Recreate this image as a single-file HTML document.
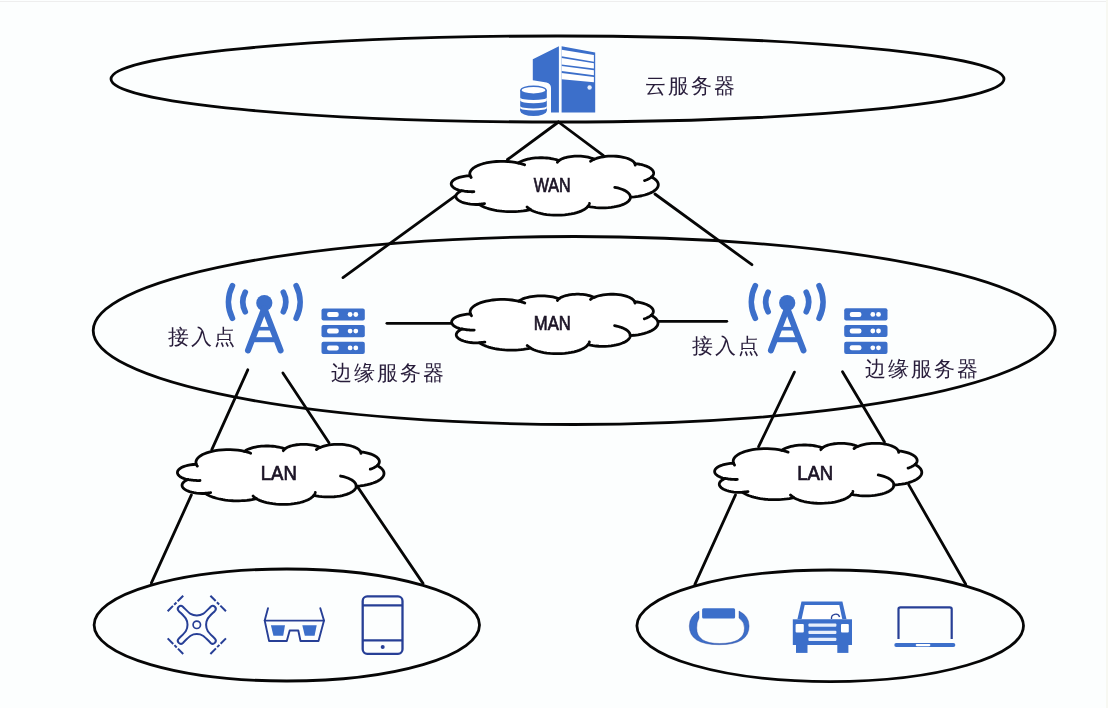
<!DOCTYPE html>
<html><head><meta charset="utf-8"><style>
html,body{margin:0;padding:0;background:#fcfefe;}
body{width:1108px;height:708px;overflow:hidden;position:relative;}
svg{position:absolute;left:0;top:0;will-change:transform;}
.cn{font-family:"Liberation Sans",sans-serif;font-size:21px;letter-spacing:2px;fill:#271c3a;}
.lat{font-family:"Liberation Sans",sans-serif;font-size:19.5px;fill:#1c1426;stroke:#1c1426;stroke-width:0.7px;}
</style></head><body>
<svg width="1108" height="708" viewBox="0 0 1108 708">
<rect x="0" y="1" width="1108" height="1" fill="#eeeeee"/>
<rect x="1106" y="0" width="2" height="708" fill="#f7f8f2"/>
<ellipse cx="557.5" cy="79" rx="446.5" ry="43" fill="none" stroke="#060606" stroke-width="2.8"/>
<ellipse cx="574.2" cy="330.5" rx="481" ry="94" fill="none" stroke="#060606" stroke-width="2.8"/>
<ellipse cx="286.8" cy="625" rx="192.7" ry="56" fill="none" stroke="#060606" stroke-width="2.8"/>
<ellipse cx="830.2" cy="625.8" rx="193.3" ry="55.8" fill="none" stroke="#060606" stroke-width="2.8"/>
<line x1="558.5" y1="122" x2="507.5" y2="159.5" stroke="#060606" stroke-width="2.8" stroke-linecap="round"/>
<line x1="558.5" y1="122" x2="603.5" y2="155.6" stroke="#060606" stroke-width="2.8" stroke-linecap="round"/>
<line x1="456.7" y1="194.8" x2="343" y2="277.6" stroke="#060606" stroke-width="2.8" stroke-linecap="round"/>
<line x1="654.9" y1="194" x2="751.9" y2="264.7" stroke="#060606" stroke-width="2.8" stroke-linecap="round"/>
<line x1="386.9" y1="323.3" x2="452" y2="323.3" stroke="#060606" stroke-width="2.8" stroke-linecap="round"/>
<line x1="658" y1="321.3" x2="726.8" y2="321.3" stroke="#060606" stroke-width="2.8" stroke-linecap="round"/>
<line x1="247.8" y1="369.8" x2="211.7" y2="449.8" stroke="#060606" stroke-width="2.8" stroke-linecap="round"/>
<line x1="282.9" y1="372.9" x2="329" y2="442.8" stroke="#060606" stroke-width="2.8" stroke-linecap="round"/>
<line x1="794.4" y1="372.1" x2="758.6" y2="446.7" stroke="#060606" stroke-width="2.8" stroke-linecap="round"/>
<line x1="842.5" y1="371.8" x2="884.5" y2="442" stroke="#060606" stroke-width="2.8" stroke-linecap="round"/>
<line x1="191.4" y1="494.9" x2="151.4" y2="582.9" stroke="#060606" stroke-width="2.8" stroke-linecap="round"/>
<line x1="356.6" y1="485.4" x2="423" y2="583.4" stroke="#060606" stroke-width="2.8" stroke-linecap="round"/>
<line x1="735.5" y1="494.9" x2="694.9" y2="584.3" stroke="#060606" stroke-width="2.8" stroke-linecap="round"/>
<line x1="908.8" y1="484.9" x2="965.7" y2="584.3" stroke="#060606" stroke-width="2.8" stroke-linecap="round"/>
<path d="M470.07 175.56 L469.85 174.72 L469.77 173.89 L469.84 173.06 L470.05 172.23 L470.41 171.39 L470.92 170.54 L471.61 169.69 L472.49 168.82 L473.57 167.96 L474.88 167.08 L476.46 166.21 L478.32 165.35 L480.49 164.51 L483.00 163.72 L485.86 162.99 L489.05 162.36 L492.55 161.85 L496.29 161.50 L500.19 161.31 L504.14 161.32 L508.04 161.51 L511.78 161.87 L515.26 162.38 L518.44 163.02 L519.18 162.52 L520.01 162.01 L520.97 161.51 L522.04 161.02 L523.24 160.53 L524.58 160.06 L526.07 159.61 L527.69 159.19 L529.46 158.81 L531.37 158.47 L533.40 158.19 L535.53 157.97 L537.74 157.82 L540.00 157.75 L542.27 157.75 L544.53 157.83 L546.73 157.99 L548.85 158.22 L550.86 158.51 L552.75 158.86 L554.50 159.25 L556.11 159.67 L557.58 160.12 L558.90 160.60 L559.53 160.14 L560.26 159.69 L561.10 159.23 L562.07 158.78 L563.17 158.34 L564.40 157.92 L565.78 157.52 L567.30 157.15 L568.97 156.82 L570.76 156.54 L572.67 156.32 L574.66 156.17 L576.71 156.10 L578.77 156.11 L580.81 156.19 L582.79 156.35 L584.68 156.57 L586.46 156.86 L588.11 157.20 L589.61 157.57 L590.97 157.98 L592.18 158.40 L593.26 158.84 L594.21 159.29 L595.59 158.72 L597.17 158.16 L598.98 157.64 L601.01 157.17 L603.24 156.76 L605.67 156.44 L608.24 156.22 L610.90 156.11 L613.59 156.13 L616.23 156.26 L618.78 156.50 L621.16 156.84 L623.35 157.27 L625.33 157.75 L627.09 158.28 L628.63 158.84 L629.96 159.42 L631.10 160.01 L632.07 160.61 L632.88 161.20 L633.55 161.79 L634.09 162.37 L634.51 162.95 L634.83 163.53 L637.33 163.85 L639.66 164.25 L641.79 164.72 L643.70 165.25 L645.41 165.81 L646.91 166.39 L648.22 166.99 L649.34 167.60 L650.31 168.21 L651.13 168.81 L651.81 169.42 L652.37 170.02 L652.82 170.61 L653.17 171.20 L653.42 171.78 L653.58 172.36 L653.65 172.94 L653.63 173.52 L653.53 174.10 L653.34 174.68 L653.06 175.27 L652.68 175.85 L652.19 176.45 L651.59 177.05 L653.24 177.97 L654.61 178.89 L655.72 179.81 L656.61 180.72 L657.29 181.62 L657.79 182.51 L658.11 183.39 L658.28 184.27 L658.28 185.15 L658.13 186.03 L657.81 186.91 L657.32 187.81 L656.65 188.70 L655.77 189.61 L654.67 190.53 L653.31 191.45 L651.67 192.37 L649.71 193.28 L647.41 194.16 L644.72 194.99 L641.66 195.75 L638.23 196.39 L634.47 196.89 L630.46 197.22 L630.39 197.88 L630.22 198.53 L629.94 199.20 L629.55 199.86 L629.04 200.54 L628.39 201.21 L627.59 201.90 L626.64 202.59 L625.50 203.28 L624.17 203.96 L622.62 204.63 L620.84 205.29 L618.81 205.90 L616.54 206.47 L614.01 206.97 L611.27 207.38 L608.34 207.67 L605.29 207.85 L602.17 207.89 L599.07 207.80 L596.06 207.58 L593.19 207.23 L590.53 206.79 L588.10 206.26 L587.40 207.06 L586.54 207.87 L585.49 208.68 L584.24 209.49 L582.76 210.30 L581.03 211.11 L579.03 211.89 L576.74 212.64 L574.15 213.33 L571.26 213.95 L568.09 214.47 L564.69 214.87 L561.11 215.12 L557.44 215.21 L553.76 215.14 L550.16 214.91 L546.72 214.54 L543.52 214.04 L540.59 213.43 L537.95 212.75 L535.62 212.00 L533.57 211.23 L531.81 210.42 L530.29 209.61 L528.13 210.08 L525.83 210.50 L523.40 210.87 L520.85 211.18 L518.21 211.42 L515.49 211.58 L512.73 211.66 L509.95 211.67 L507.19 211.59 L504.47 211.43 L501.82 211.20 L499.26 210.90 L496.82 210.53 L494.51 210.11 L492.34 209.65 L490.32 209.14 L488.44 208.60 L486.72 208.04 L485.13 207.46 L483.69 206.86 L482.38 206.26 L481.20 205.65 L480.14 205.04 L479.18 204.42 L476.17 204.48 L473.18 204.36 L470.33 204.09 L467.70 203.68 L465.36 203.17 L463.33 202.58 L461.60 201.95 L460.16 201.30 L458.98 200.63 L458.03 199.97 L457.28 199.30 L456.71 198.65 L456.30 198.00 L456.03 197.36 L455.90 196.72 L455.89 196.08 L456.02 195.45 L456.28 194.80 L456.69 194.16 L457.25 193.50 L457.98 192.84 L458.92 192.17 L460.09 191.51 L461.51 190.85 L459.28 190.26 L457.39 189.61 L455.82 188.93 L454.54 188.24 L453.52 187.54 L452.71 186.85 L452.10 186.17 L451.67 185.50 L451.38 184.83 L451.24 184.17 L451.24 183.51 L451.38 182.85 L451.66 182.19 L452.09 181.51 L452.69 180.83 L453.49 180.14 L454.51 179.45 L455.78 178.75 L457.34 178.07 L459.22 177.42 L461.44 176.83 L463.99 176.33 L466.83 175.96 L469.89 175.74 Z" fill="#fff" stroke="#060606" stroke-width="2.8" stroke-linejoin="round"/>
<path d=" M473.87 191.71 L472.77 191.73 L471.68 191.73 L470.59 191.71 L469.51 191.67 L468.44 191.60 L467.39 191.51 L466.37 191.40 L465.37 191.28 L464.41 191.14 L463.48 190.98 L462.59 190.81 L461.74 190.62 M484.56 203.64 L484.15 203.71 L483.73 203.76 L483.31 203.82 L482.87 203.87 L482.44 203.92 L482.00 203.97 L481.55 204.01 L481.10 204.05 L480.64 204.08 L480.19 204.12 L479.72 204.14 L479.26 204.17 M530.28 209.38 L529.95 209.18 L529.63 208.98 L529.32 208.78 L529.02 208.58 L528.74 208.38 L528.47 208.18 L528.21 207.98 L527.96 207.79 L527.73 207.59 L527.50 207.39 L527.29 207.19 L527.08 207.00 M589.40 203.44 L589.35 203.66 L589.29 203.87 L589.22 204.09 L589.14 204.31 L589.05 204.52 L588.94 204.74 L588.83 204.96 L588.71 205.18 L588.58 205.39 L588.44 205.61 L588.28 205.83 L588.12 206.05 M614.78 187.30 L617.78 187.96 L620.39 188.71 L622.62 189.52 L624.50 190.36 L626.04 191.22 L627.30 192.08 L628.31 192.93 L629.08 193.77 L629.66 194.60 L630.05 195.43 L630.28 196.25 L630.34 197.06 M651.49 176.91 L651.13 177.21 L650.75 177.52 L650.32 177.83 L649.86 178.14 L649.36 178.45 L648.81 178.76 L648.22 179.07 L647.59 179.38 L646.91 179.68 L646.18 179.98 L645.39 180.28 L644.56 180.57 M634.86 163.32 L634.92 163.47 L634.98 163.61 L635.03 163.76 L635.08 163.90 L635.12 164.05 L635.15 164.19 L635.18 164.33 L635.20 164.48 L635.21 164.62 L635.22 164.76 L635.23 164.91 L635.22 165.05 M590.60 161.31 L590.81 161.12 L591.04 160.94 L591.28 160.76 L591.53 160.57 L591.80 160.39 L592.09 160.20 L592.39 160.02 L592.71 159.83 L593.04 159.65 L593.39 159.47 L593.76 159.28 L594.15 159.10 M557.39 162.36 L557.48 162.20 L557.58 162.04 L557.69 161.89 L557.81 161.73 L557.94 161.57 L558.07 161.41 L558.22 161.26 L558.38 161.10 L558.54 160.94 L558.72 160.78 L558.91 160.62 L559.11 160.46 M518.42 163.00 L519.01 163.14 L519.59 163.28 L520.16 163.43 L520.71 163.58 L521.25 163.73 L521.77 163.88 L522.29 164.04 L522.78 164.20 L523.27 164.36 L523.74 164.52 L524.20 164.68 L524.64 164.85 M471.16 177.50 L471.03 177.34 L470.92 177.17 L470.80 177.01 L470.70 176.85 L470.60 176.69 L470.51 176.53 L470.42 176.36 L470.34 176.20 L470.26 176.04 L470.19 175.88 L470.13 175.72 L470.07 175.56" fill="none" stroke="#060606" stroke-width="2.8" stroke-linecap="round"/>
<text x="533.7" y="191.6" class="lat" textLength="37" lengthAdjust="spacingAndGlyphs">WAN</text>
<path d="M470.41 313.79 L470.19 312.95 L470.11 312.11 L470.18 311.28 L470.39 310.44 L470.74 309.59 L471.26 308.74 L471.94 307.88 L472.81 307.01 L473.89 306.14 L475.20 305.26 L476.77 304.38 L478.63 303.51 L480.79 302.67 L483.30 301.87 L486.14 301.14 L489.32 300.51 L492.81 299.99 L496.54 299.63 L500.42 299.45 L504.36 299.45 L508.25 299.64 L511.97 300.01 L515.45 300.52 L518.62 301.16 L519.35 300.66 L520.18 300.15 L521.13 299.65 L522.20 299.15 L523.40 298.67 L524.73 298.19 L526.21 297.74 L527.83 297.32 L529.60 296.93 L531.50 296.59 L533.52 296.30 L535.64 296.08 L537.85 295.93 L540.10 295.86 L542.36 295.86 L544.61 295.95 L546.80 296.11 L548.92 296.34 L550.92 296.63 L552.81 296.98 L554.55 297.37 L556.16 297.80 L557.62 298.25 L558.93 298.73 L559.56 298.27 L560.29 297.81 L561.13 297.35 L562.09 296.90 L563.19 296.46 L564.42 296.03 L565.79 295.63 L567.31 295.26 L568.97 294.92 L570.76 294.64 L572.66 294.42 L574.64 294.28 L576.68 294.20 L578.74 294.21 L580.77 294.29 L582.75 294.45 L584.63 294.68 L586.40 294.97 L588.04 295.31 L589.54 295.68 L590.90 296.09 L592.11 296.52 L593.18 296.96 L594.13 297.42 L595.50 296.84 L597.08 296.28 L598.88 295.75 L600.90 295.28 L603.13 294.87 L605.54 294.54 L608.11 294.32 L610.76 294.22 L613.44 294.23 L616.08 294.36 L618.61 294.61 L620.99 294.95 L623.17 295.38 L625.14 295.86 L626.89 296.40 L628.43 296.96 L629.76 297.55 L630.89 298.14 L631.86 298.74 L632.67 299.34 L633.33 299.93 L633.87 300.52 L634.29 301.10 L634.61 301.68 L637.10 302.00 L639.42 302.41 L641.54 302.88 L643.45 303.41 L645.15 303.97 L646.65 304.56 L647.95 305.17 L649.07 305.78 L650.04 306.39 L650.85 307.00 L651.53 307.61 L652.09 308.21 L652.54 308.81 L652.88 309.40 L653.13 309.99 L653.29 310.57 L653.36 311.16 L653.35 311.74 L653.25 312.32 L653.06 312.91 L652.77 313.50 L652.39 314.09 L651.91 314.69 L651.31 315.29 L652.96 316.22 L654.32 317.15 L655.43 318.07 L656.32 318.99 L657.00 319.89 L657.49 320.79 L657.81 321.68 L657.98 322.56 L657.98 323.45 L657.83 324.33 L657.51 325.22 L657.02 326.12 L656.35 327.03 L655.48 327.94 L654.38 328.86 L653.03 329.79 L651.39 330.72 L649.44 331.63 L647.14 332.52 L644.47 333.36 L641.42 334.12 L637.99 334.77 L634.25 335.27 L630.25 335.60 L630.18 336.26 L630.02 336.92 L629.74 337.59 L629.35 338.26 L628.83 338.94 L628.19 339.62 L627.40 340.31 L626.44 341.00 L625.31 341.70 L623.99 342.39 L622.44 343.06 L620.67 343.72 L618.65 344.34 L616.38 344.91 L613.86 345.41 L611.13 345.82 L608.21 346.13 L605.17 346.30 L602.06 346.35 L598.97 346.25 L595.97 346.02 L593.11 345.68 L590.46 345.23 L588.04 344.70 L587.34 345.51 L586.48 346.32 L585.44 347.13 L584.19 347.95 L582.72 348.77 L580.99 349.58 L579.00 350.37 L576.72 351.12 L574.13 351.82 L571.25 352.45 L568.10 352.97 L564.71 353.37 L561.14 353.62 L557.48 353.72 L553.81 353.64 L550.22 353.41 L546.80 353.04 L543.61 352.53 L540.69 351.92 L538.06 351.23 L535.73 350.48 L533.70 349.70 L531.93 348.89 L530.42 348.08 L528.27 348.55 L525.98 348.97 L523.55 349.35 L521.01 349.65 L518.38 349.89 L515.67 350.06 L512.92 350.14 L510.15 350.14 L507.40 350.06 L504.69 349.91 L502.05 349.67 L499.50 349.37 L497.07 349.00 L494.77 348.58 L492.60 348.11 L490.59 347.60 L488.72 347.06 L487.00 346.49 L485.42 345.91 L483.98 345.31 L482.68 344.70 L481.50 344.09 L480.44 343.47 L479.49 342.85 L476.49 342.91 L473.51 342.79 L470.67 342.51 L468.05 342.10 L465.72 341.59 L463.69 341.00 L461.97 340.36 L460.53 339.70 L459.36 339.03 L458.41 338.36 L457.66 337.70 L457.09 337.04 L456.68 336.39 L456.42 335.74 L456.28 335.10 L456.28 334.46 L456.40 333.81 L456.66 333.17 L457.07 332.52 L457.63 331.86 L458.36 331.19 L459.30 330.52 L460.46 329.85 L461.88 329.19 L459.66 328.59 L457.77 327.94 L456.21 327.26 L454.93 326.56 L453.91 325.86 L453.11 325.16 L452.50 324.48 L452.07 323.80 L451.78 323.13 L451.64 322.46 L451.64 321.80 L451.78 321.14 L452.05 320.47 L452.49 319.79 L453.09 319.10 L453.88 318.41 L454.89 317.71 L456.16 317.01 L457.72 316.32 L459.59 315.67 L461.80 315.07 L464.35 314.57 L467.18 314.19 L470.23 313.98 Z" fill="#fff" stroke="#060606" stroke-width="2.8" stroke-linejoin="round"/>
<path d=" M474.19 330.05 L473.10 330.08 L472.01 330.08 L470.93 330.05 L469.85 330.01 L468.78 329.94 L467.74 329.85 L466.72 329.74 L465.73 329.62 L464.77 329.47 L463.84 329.32 L462.95 329.14 L462.10 328.96 M484.85 342.07 L484.44 342.13 L484.02 342.19 L483.60 342.25 L483.17 342.30 L482.73 342.35 L482.29 342.39 L481.85 342.44 L481.40 342.48 L480.94 342.51 L480.49 342.54 L480.03 342.57 L479.56 342.59 M530.41 347.84 L530.08 347.64 L529.76 347.44 L529.45 347.24 L529.16 347.04 L528.88 346.84 L528.61 346.64 L528.35 346.44 L528.10 346.24 L527.87 346.04 L527.64 345.84 L527.43 345.64 L527.23 345.44 M589.33 341.86 L589.28 342.08 L589.22 342.30 L589.15 342.51 L589.07 342.73 L588.98 342.95 L588.88 343.17 L588.77 343.39 L588.65 343.61 L588.52 343.83 L588.38 344.05 L588.22 344.27 L588.06 344.49 M614.62 325.61 L617.61 326.28 L620.22 327.04 L622.44 327.85 L624.31 328.70 L625.85 329.56 L627.11 330.42 L628.11 331.28 L628.88 332.13 L629.46 332.96 L629.85 333.80 L630.07 334.62 L630.14 335.44 M651.21 315.15 L650.86 315.46 L650.47 315.77 L650.05 316.08 L649.59 316.39 L649.09 316.70 L648.54 317.01 L647.96 317.33 L647.33 317.63 L646.65 317.94 L645.92 318.24 L645.14 318.54 L644.30 318.83 M634.64 301.47 L634.70 301.62 L634.76 301.76 L634.81 301.91 L634.86 302.06 L634.89 302.20 L634.93 302.35 L634.96 302.49 L634.98 302.64 L634.99 302.78 L635.00 302.92 L635.00 303.07 L635.00 303.21 M590.53 299.44 L590.74 299.26 L590.97 299.07 L591.21 298.89 L591.46 298.70 L591.73 298.52 L592.01 298.33 L592.31 298.15 L592.63 297.96 L592.96 297.78 L593.31 297.59 L593.68 297.41 L594.06 297.22 M557.43 300.50 L557.52 300.34 L557.62 300.19 L557.73 300.03 L557.85 299.87 L557.97 299.71 L558.11 299.55 L558.26 299.39 L558.41 299.23 L558.58 299.07 L558.76 298.91 L558.95 298.75 L559.14 298.59 M518.59 301.15 L519.18 301.29 L519.76 301.43 L520.33 301.58 L520.88 301.73 L521.41 301.88 L521.94 302.04 L522.45 302.19 L522.94 302.35 L523.42 302.51 L523.89 302.68 L524.35 302.84 L524.79 303.01 M471.49 315.75 L471.37 315.58 L471.25 315.42 L471.14 315.25 L471.03 315.09 L470.94 314.93 L470.84 314.76 L470.76 314.60 L470.67 314.44 L470.60 314.28 L470.53 314.12 L470.47 313.95 L470.41 313.79" fill="none" stroke="#060606" stroke-width="2.8" stroke-linecap="round"/>
<text x="533.8" y="329.6" class="lat" textLength="37" lengthAdjust="spacingAndGlyphs">MAN</text>
<path d="M196.22 464.09 L196.01 463.24 L195.93 462.40 L196.00 461.55 L196.21 460.70 L196.56 459.85 L197.08 458.99 L197.76 458.12 L198.63 457.24 L199.71 456.36 L201.03 455.47 L202.60 454.58 L204.45 453.71 L206.62 452.86 L209.13 452.05 L211.97 451.31 L215.16 450.67 L218.65 450.15 L222.38 449.79 L226.27 449.61 L230.22 449.61 L234.10 449.80 L237.83 450.17 L241.31 450.69 L244.48 451.34 L245.21 450.83 L246.05 450.32 L247.00 449.81 L248.07 449.31 L249.27 448.81 L250.61 448.33 L252.08 447.88 L253.71 447.45 L255.47 447.06 L257.37 446.72 L259.40 446.43 L261.52 446.20 L263.73 446.05 L265.98 445.98 L268.25 445.98 L270.50 446.07 L272.70 446.23 L274.81 446.46 L276.82 446.76 L278.70 447.11 L280.45 447.50 L282.06 447.93 L283.52 448.39 L284.84 448.87 L285.47 448.41 L286.20 447.95 L287.04 447.49 L288.00 447.03 L289.10 446.58 L290.33 446.15 L291.70 445.75 L293.22 445.37 L294.88 445.03 L296.67 444.75 L298.58 444.53 L300.56 444.38 L302.60 444.30 L304.66 444.31 L306.70 444.39 L308.67 444.56 L310.56 444.79 L312.33 445.08 L313.98 445.42 L315.48 445.80 L316.83 446.21 L318.04 446.65 L319.12 447.09 L320.07 447.55 L321.44 446.96 L323.02 446.40 L324.82 445.87 L326.84 445.39 L329.08 444.98 L331.49 444.65 L334.06 444.43 L336.71 444.32 L339.39 444.33 L342.04 444.47 L344.57 444.71 L346.95 445.06 L349.14 445.49 L351.11 445.98 L352.86 446.52 L354.40 447.09 L355.73 447.68 L356.87 448.28 L357.83 448.89 L358.64 449.49 L359.31 450.09 L359.85 450.68 L360.27 451.27 L360.59 451.86 L363.08 452.18 L365.40 452.59 L367.53 453.07 L369.44 453.60 L371.14 454.17 L372.64 454.77 L373.94 455.38 L375.07 456.00 L376.03 456.61 L376.84 457.23 L377.52 457.85 L378.08 458.45 L378.53 459.06 L378.88 459.66 L379.13 460.25 L379.29 460.84 L379.36 461.43 L379.34 462.02 L379.24 462.61 L379.05 463.20 L378.77 463.79 L378.39 464.39 L377.90 465.00 L377.30 465.61 L378.95 466.54 L380.32 467.48 L381.43 468.41 L382.31 469.34 L382.99 470.25 L383.49 471.16 L383.81 472.06 L383.98 472.95 L383.98 473.85 L383.83 474.74 L383.51 475.64 L383.02 476.54 L382.35 477.46 L381.48 478.38 L380.38 479.32 L379.03 480.25 L377.39 481.19 L375.43 482.11 L373.13 483.01 L370.46 483.86 L367.40 484.62 L363.98 485.28 L360.22 485.79 L356.22 486.12 L356.16 486.79 L355.99 487.46 L355.71 488.13 L355.32 488.81 L354.81 489.49 L354.16 490.18 L353.37 490.88 L352.41 491.58 L351.28 492.28 L349.95 492.97 L348.41 493.66 L346.63 494.32 L344.61 494.95 L342.34 495.53 L339.82 496.03 L337.08 496.45 L334.16 496.75 L331.12 496.93 L328.01 496.97 L324.91 496.88 L321.91 496.65 L319.05 496.30 L316.39 495.85 L313.97 495.31 L313.27 496.13 L312.41 496.95 L311.37 497.77 L310.12 498.60 L308.65 499.43 L306.92 500.24 L304.92 501.04 L302.64 501.80 L300.05 502.51 L297.17 503.13 L294.01 503.66 L290.62 504.07 L287.05 504.32 L283.38 504.42 L279.71 504.35 L276.12 504.11 L272.69 503.73 L269.50 503.22 L266.57 502.60 L263.94 501.91 L261.61 501.15 L259.58 500.36 L257.81 499.55 L256.30 498.72 L254.15 499.20 L251.85 499.63 L249.42 500.00 L246.88 500.31 L244.24 500.56 L241.53 500.72 L238.78 500.81 L236.01 500.81 L233.25 500.73 L230.54 500.57 L227.90 500.33 L225.35 500.03 L222.91 499.66 L220.61 499.23 L218.44 498.75 L216.42 498.24 L214.55 497.69 L212.83 497.12 L211.25 496.53 L209.81 495.93 L208.51 495.31 L207.33 494.69 L206.27 494.07 L205.32 493.45 L202.31 493.50 L199.33 493.38 L196.48 493.10 L193.86 492.69 L191.53 492.17 L189.50 491.57 L187.78 490.93 L186.34 490.27 L185.17 489.59 L184.22 488.91 L183.47 488.24 L182.90 487.57 L182.49 486.91 L182.22 486.26 L182.09 485.61 L182.08 484.96 L182.21 484.31 L182.47 483.66 L182.87 483.00 L183.43 482.34 L184.17 481.67 L185.11 480.99 L186.27 480.31 L187.69 479.64 L185.46 479.04 L183.58 478.38 L182.01 477.69 L180.73 476.99 L179.71 476.28 L178.91 475.58 L178.30 474.88 L177.87 474.20 L177.58 473.52 L177.44 472.85 L177.44 472.18 L177.58 471.51 L177.85 470.83 L178.29 470.15 L178.89 469.46 L179.68 468.75 L180.70 468.05 L181.97 467.34 L183.52 466.65 L185.40 465.99 L187.61 465.39 L190.16 464.88 L193.00 464.50 L196.05 464.28 Z" fill="#fff" stroke="#060606" stroke-width="2.8" stroke-linejoin="round"/>
<path d=" M200.01 480.52 L198.92 480.54 L197.83 480.54 L196.74 480.52 L195.66 480.47 L194.60 480.40 L193.55 480.31 L192.53 480.20 L191.54 480.08 L190.58 479.93 L189.65 479.77 L188.76 479.60 L187.91 479.41 M210.68 492.65 L210.27 492.71 L209.85 492.77 L209.43 492.83 L209.00 492.89 L208.56 492.94 L208.12 492.98 L207.68 493.02 L207.23 493.06 L206.77 493.10 L206.32 493.13 L205.85 493.16 L205.39 493.18 M256.29 498.48 L255.96 498.28 L255.64 498.08 L255.33 497.87 L255.03 497.67 L254.75 497.47 L254.48 497.27 L254.22 497.07 L253.98 496.86 L253.74 496.66 L253.52 496.46 L253.30 496.26 L253.10 496.06 M315.26 492.45 L315.21 492.66 L315.15 492.88 L315.08 493.10 L315.00 493.32 L314.91 493.54 L314.81 493.77 L314.70 493.99 L314.58 494.21 L314.45 494.43 L314.31 494.65 L314.15 494.88 L313.99 495.10 M340.58 476.03 L343.57 476.71 L346.18 477.47 L348.41 478.29 L350.28 479.15 L351.82 480.02 L353.08 480.89 L354.08 481.75 L354.85 482.61 L355.43 483.46 L355.82 484.30 L356.05 485.13 L356.11 485.96 M377.20 465.46 L376.85 465.77 L376.46 466.09 L376.04 466.40 L375.58 466.72 L375.08 467.03 L374.54 467.35 L373.95 467.66 L373.32 467.97 L372.64 468.28 L371.91 468.59 L371.13 468.89 L370.29 469.18 M360.61 451.65 L360.68 451.80 L360.74 451.94 L360.79 452.09 L360.83 452.24 L360.87 452.38 L360.91 452.53 L360.93 452.68 L360.95 452.82 L360.97 452.97 L360.98 453.11 L360.98 453.26 L360.98 453.41 M316.46 449.60 L316.67 449.41 L316.90 449.23 L317.14 449.04 L317.40 448.85 L317.66 448.66 L317.95 448.48 L318.25 448.29 L318.57 448.10 L318.90 447.91 L319.25 447.73 L319.62 447.54 L320.00 447.36 M283.33 450.67 L283.42 450.51 L283.52 450.35 L283.63 450.19 L283.75 450.03 L283.88 449.87 L284.01 449.71 L284.16 449.55 L284.32 449.38 L284.48 449.22 L284.66 449.06 L284.85 448.90 L285.05 448.73 M244.46 451.32 L245.05 451.46 L245.63 451.61 L246.19 451.76 L246.74 451.91 L247.28 452.06 L247.80 452.22 L248.31 452.38 L248.81 452.54 L249.29 452.70 L249.76 452.86 L250.22 453.03 L250.66 453.20 M197.31 466.07 L197.18 465.90 L197.07 465.73 L196.96 465.57 L196.85 465.40 L196.75 465.24 L196.66 465.07 L196.57 464.91 L196.49 464.75 L196.42 464.58 L196.35 464.42 L196.28 464.26 L196.23 464.09" fill="none" stroke="#060606" stroke-width="2.8" stroke-linecap="round"/>
<text x="260.8" y="480.4" class="lat" textLength="36" lengthAdjust="spacingAndGlyphs">LAN</text>
<path d="M733.48 463.06 L733.26 462.21 L733.18 461.37 L733.25 460.52 L733.46 459.67 L733.82 458.82 L734.33 457.96 L735.02 457.10 L735.90 456.22 L736.98 455.34 L738.29 454.45 L739.87 453.57 L741.73 452.69 L743.91 451.84 L746.42 451.04 L749.27 450.30 L752.47 449.66 L755.97 449.14 L759.71 448.78 L763.61 448.60 L767.57 448.60 L771.47 448.79 L775.20 449.16 L778.69 449.68 L781.88 450.33 L782.61 449.82 L783.45 449.31 L784.40 448.80 L785.47 448.30 L786.68 447.80 L788.02 447.33 L789.50 446.87 L791.13 446.44 L792.90 446.05 L794.81 445.71 L796.84 445.42 L798.97 445.20 L801.18 445.05 L803.44 444.97 L805.72 444.98 L807.97 445.06 L810.17 445.23 L812.29 445.46 L814.31 445.75 L816.20 446.10 L817.95 446.50 L819.56 446.93 L821.03 447.39 L822.35 447.87 L822.98 447.41 L823.71 446.94 L824.56 446.48 L825.52 446.03 L826.62 445.58 L827.86 445.15 L829.23 444.74 L830.76 444.37 L832.42 444.03 L834.22 443.75 L836.13 443.53 L838.12 443.38 L840.17 443.30 L842.23 443.31 L844.27 443.39 L846.25 443.55 L848.15 443.79 L849.93 444.08 L851.57 444.42 L853.08 444.80 L854.44 445.21 L855.65 445.64 L856.73 446.09 L857.68 446.55 L859.06 445.96 L860.64 445.40 L862.45 444.87 L864.48 444.39 L866.72 443.97 L869.14 443.65 L871.71 443.43 L874.38 443.32 L877.07 443.33 L879.71 443.47 L882.26 443.71 L884.64 444.06 L886.84 444.49 L888.82 444.98 L890.57 445.52 L892.11 446.09 L893.45 446.68 L894.59 447.28 L895.56 447.88 L896.37 448.48 L897.04 449.08 L897.58 449.67 L898.00 450.26 L898.32 450.84 L900.82 451.17 L903.15 451.58 L905.28 452.06 L907.20 452.59 L908.90 453.16 L910.40 453.75 L911.71 454.36 L912.84 454.98 L913.81 455.59 L914.62 456.21 L915.31 456.82 L915.87 457.43 L916.32 458.03 L916.66 458.63 L916.91 459.22 L917.07 459.81 L917.15 460.40 L917.13 460.99 L917.03 461.58 L916.84 462.17 L916.55 462.76 L916.17 463.36 L915.69 463.96 L915.08 464.57 L916.74 465.51 L918.11 466.44 L919.22 467.37 L920.11 468.30 L920.79 469.21 L921.29 470.11 L921.61 471.01 L921.78 471.90 L921.78 472.80 L921.63 473.69 L921.31 474.59 L920.82 475.49 L920.15 476.40 L919.27 477.33 L918.17 478.26 L916.81 479.19 L915.17 480.13 L913.21 481.05 L910.90 481.95 L908.22 482.79 L905.15 483.56 L901.72 484.21 L897.95 484.72 L893.94 485.05 L893.88 485.72 L893.71 486.38 L893.43 487.06 L893.04 487.73 L892.52 488.42 L891.87 489.10 L891.08 489.80 L890.12 490.50 L888.99 491.20 L887.65 491.89 L886.10 492.58 L884.32 493.24 L882.29 493.87 L880.02 494.44 L877.49 494.95 L874.75 495.36 L871.82 495.66 L868.76 495.84 L865.64 495.88 L862.54 495.79 L859.53 495.56 L856.66 495.21 L854.00 494.76 L851.56 494.23 L850.87 495.04 L850.01 495.86 L848.96 496.68 L847.71 497.51 L846.23 498.33 L844.50 499.15 L842.49 499.94 L840.20 500.70 L837.61 501.41 L834.72 502.04 L831.55 502.56 L828.15 502.97 L824.57 503.22 L820.89 503.32 L817.20 503.25 L813.60 503.01 L810.17 502.63 L806.96 502.12 L804.03 501.51 L801.40 500.81 L799.06 500.06 L797.01 499.27 L795.25 498.45 L793.73 497.63 L791.57 498.11 L789.27 498.54 L786.83 498.91 L784.28 499.22 L781.64 499.46 L778.92 499.63 L776.16 499.71 L773.38 499.72 L770.61 499.64 L767.89 499.48 L765.24 499.24 L762.69 498.93 L760.25 498.56 L757.93 498.14 L755.76 497.66 L753.74 497.15 L751.86 496.60 L750.13 496.03 L748.55 495.44 L747.11 494.84 L745.80 494.23 L744.62 493.61 L743.55 492.99 L742.60 492.36 L739.58 492.42 L736.59 492.30 L733.74 492.02 L731.11 491.61 L728.77 491.09 L726.74 490.49 L725.01 489.85 L723.57 489.19 L722.39 488.51 L721.44 487.84 L720.69 487.16 L720.12 486.50 L719.70 485.84 L719.43 485.19 L719.30 484.54 L719.30 483.90 L719.42 483.25 L719.68 482.60 L720.09 481.94 L720.65 481.27 L721.39 480.60 L722.33 479.93 L723.49 479.25 L724.92 478.58 L722.69 477.98 L720.80 477.33 L719.22 476.64 L717.94 475.93 L716.92 475.23 L716.11 474.53 L715.50 473.83 L715.07 473.15 L714.78 472.47 L714.64 471.80 L714.64 471.13 L714.78 470.46 L715.06 469.79 L715.49 469.10 L716.09 468.41 L716.89 467.71 L717.91 467.01 L719.18 466.30 L720.74 465.61 L722.62 464.95 L724.84 464.35 L727.40 463.84 L730.24 463.46 L733.30 463.24 Z" fill="#fff" stroke="#060606" stroke-width="2.8" stroke-linejoin="round"/>
<path d=" M737.28 479.46 L736.18 479.48 L735.09 479.48 L734.00 479.46 L732.92 479.41 L731.85 479.34 L730.80 479.25 L729.78 479.14 L728.78 479.02 L727.82 478.87 L726.89 478.71 L726.00 478.54 L725.14 478.35 M747.98 491.57 L747.57 491.63 L747.15 491.69 L746.72 491.75 L746.29 491.80 L745.85 491.85 L745.41 491.90 L744.96 491.94 L744.51 491.98 L744.06 492.02 L743.60 492.05 L743.14 492.08 L742.67 492.10 M793.72 497.39 L793.38 497.19 L793.06 496.99 L792.75 496.78 L792.46 496.58 L792.18 496.38 L791.91 496.18 L791.65 495.98 L791.40 495.78 L791.16 495.58 L790.94 495.37 L790.72 495.17 L790.52 494.97 M852.86 491.37 L852.81 491.58 L852.75 491.80 L852.68 492.02 L852.60 492.24 L852.51 492.46 L852.41 492.68 L852.30 492.90 L852.18 493.13 L852.05 493.35 L851.91 493.57 L851.75 493.79 L851.59 494.02 M878.26 474.98 L881.26 475.65 L883.87 476.41 L886.10 477.23 L887.98 478.09 L889.53 478.96 L890.79 479.83 L891.79 480.69 L892.57 481.55 L893.15 482.39 L893.54 483.23 L893.76 484.06 L893.83 484.89 M914.99 464.42 L914.63 464.74 L914.24 465.05 L913.82 465.36 L913.36 465.68 L912.85 465.99 L912.31 466.31 L911.72 466.62 L911.09 466.93 L910.40 467.24 L909.67 467.55 L908.89 467.85 L908.05 468.14 M898.35 450.64 L898.41 450.78 L898.47 450.93 L898.52 451.08 L898.57 451.22 L898.61 451.37 L898.64 451.52 L898.67 451.66 L898.69 451.81 L898.70 451.95 L898.71 452.10 L898.72 452.25 L898.71 452.39 M854.06 448.59 L854.28 448.40 L854.51 448.22 L854.75 448.03 L855.00 447.84 L855.27 447.66 L855.56 447.47 L855.86 447.28 L856.18 447.09 L856.51 446.91 L856.86 446.72 L857.23 446.54 L857.62 446.35 M820.84 449.66 L820.93 449.50 L821.03 449.34 L821.14 449.18 L821.26 449.02 L821.39 448.86 L821.52 448.70 L821.67 448.54 L821.83 448.38 L821.99 448.21 L822.17 448.05 L822.36 447.89 L822.56 447.73 M781.85 450.31 L782.44 450.45 L783.02 450.60 L783.59 450.74 L784.14 450.89 L784.68 451.05 L785.21 451.20 L785.72 451.36 L786.22 451.52 L786.70 451.69 L787.17 451.85 L787.63 452.02 L788.08 452.18 M734.57 465.03 L734.44 464.86 L734.32 464.70 L734.21 464.53 L734.11 464.37 L734.01 464.20 L733.92 464.04 L733.83 463.88 L733.75 463.71 L733.67 463.55 L733.60 463.38 L733.54 463.22 L733.48 463.06" fill="none" stroke="#060606" stroke-width="2.8" stroke-linecap="round"/>
<text x="797.2" y="479.6" class="lat" textLength="36" lengthAdjust="spacingAndGlyphs">LAN</text>
<g transform="translate(0,0)" fill="none" stroke="#3c6fca" stroke-linecap="round"><path d="M245.23 292.28 A21.4 21.4 0 0 0 245.23 311.72" stroke-width="5.7"/><path d="M283.37 292.28 A21.4 21.4 0 0 1 283.37 311.72" stroke-width="5.7"/><path d="M232.40 285.75 A35.8 35.8 0 0 0 232.40 318.25" stroke-width="5.7"/><path d="M296.20 285.75 A35.8 35.8 0 0 1 296.20 318.25" stroke-width="5.7"/><circle cx="264.3" cy="303" r="8.1" fill="#3c6fca" stroke="none"/><path d="M264.3 308 L248.0 350.4 M264.3 308 L280.6 350.4" stroke-width="6"/><path d="M255.3 328.7 H273.3 " stroke-width="3.6" stroke-linecap="butt"/><path d="M251.3 339.7 H277.3" stroke-width="5" stroke-linecap="butt"/></g>
<g transform="translate(522.9,0)" fill="none" stroke="#3c6fca" stroke-linecap="round"><path d="M245.23 292.28 A21.4 21.4 0 0 0 245.23 311.72" stroke-width="5.7"/><path d="M283.37 292.28 A21.4 21.4 0 0 1 283.37 311.72" stroke-width="5.7"/><path d="M232.40 285.75 A35.8 35.8 0 0 0 232.40 318.25" stroke-width="5.7"/><path d="M296.20 285.75 A35.8 35.8 0 0 1 296.20 318.25" stroke-width="5.7"/><circle cx="264.3" cy="303" r="8.1" fill="#3c6fca" stroke="none"/><path d="M264.3 308 L248.0 350.4 M264.3 308 L280.6 350.4" stroke-width="6"/><path d="M255.3 328.7 H273.3 " stroke-width="3.6" stroke-linecap="butt"/><path d="M251.3 339.7 H277.3" stroke-width="5" stroke-linecap="butt"/></g>
<g transform="translate(321.5,308.4)"><rect x="0" y="0" width="43.3" height="12.2" rx="2" fill="#3c6fca"/><rect x="5.6" y="3.6" width="11.6" height="5" rx="2" fill="#fff"/><circle cx="28.6" cy="6.1" r="2.4" fill="#fff"/><circle cx="34.3" cy="6.1" r="2.4" fill="#fff"/><rect x="0" y="16.6" width="43.3" height="12.2" rx="2" fill="#3c6fca"/><rect x="5.6" y="20.200000000000003" width="11.6" height="5" rx="2" fill="#fff"/><circle cx="28.6" cy="22.700000000000003" r="2.4" fill="#fff"/><circle cx="34.3" cy="22.700000000000003" r="2.4" fill="#fff"/><rect x="0" y="33.4" width="43.3" height="12.2" rx="2" fill="#3c6fca"/><rect x="5.6" y="37.0" width="11.6" height="5" rx="2" fill="#fff"/><circle cx="28.6" cy="39.5" r="2.4" fill="#fff"/><circle cx="34.3" cy="39.5" r="2.4" fill="#fff"/></g>
<g transform="translate(844.2,308.3)"><rect x="0" y="0" width="43.3" height="12.2" rx="2" fill="#3c6fca"/><rect x="5.6" y="3.6" width="11.6" height="5" rx="2" fill="#fff"/><circle cx="28.6" cy="6.1" r="2.4" fill="#fff"/><circle cx="34.3" cy="6.1" r="2.4" fill="#fff"/><rect x="0" y="16.6" width="43.3" height="12.2" rx="2" fill="#3c6fca"/><rect x="5.6" y="20.200000000000003" width="11.6" height="5" rx="2" fill="#fff"/><circle cx="28.6" cy="22.700000000000003" r="2.4" fill="#fff"/><circle cx="34.3" cy="22.700000000000003" r="2.4" fill="#fff"/><rect x="0" y="33.4" width="43.3" height="12.2" rx="2" fill="#3c6fca"/><rect x="5.6" y="37.0" width="11.6" height="5" rx="2" fill="#fff"/><circle cx="28.6" cy="39.5" r="2.4" fill="#fff"/><circle cx="34.3" cy="39.5" r="2.4" fill="#fff"/></g>
<g>
<path d="M532.8 59.2 L558.9 46.2 L558.9 112.6 L551 112.6 L551 88 Q551 83.5 546.5 82.5 L532.8 80.3 Z" fill="#3c6fca"/>
<path d="M561.6 46.2 L595.2 52.4 L595.2 112.6 L561.6 112.6 Z" fill="#3c6fca"/>
<path d="M561.6 49.7 L593.9 55.1 L593.9 61.7 L561.6 56.3 Z" fill="#fff"/>
<path d="M561.6 58 L593.9 63.3 L593.9 68.5 L561.6 64.5 Z" fill="#fff"/>
<path d="M561.6 66 L593.9 70.2 L593.9 75.3 L561.6 71 Z" fill="#fff"/>
<path d="M561.6 73 L593.9 76.9 L593.9 82.3 L561.6 79.2 Z" fill="#fff"/>
<circle cx="589.6" cy="87.5" r="2.2" fill="#e6eefc"/>
<ellipse cx="533.5" cy="110.5" rx="13.3" ry="5.6" fill="#3c6fca"/>
<rect x="520.2" y="90" width="26.6" height="20.5" fill="#3c6fca"/>
<path d="M520.2 97.4 A13.3 2.6 0 0 0 546.8 97.4 L546.8 100.6 A13.3 2.6 0 0 1 520.2 100.6 Z" fill="#fff"/>
<path d="M520.2 105.9 A13.3 2.6 0 0 0 546.8 105.9 L546.8 108 A13.3 2.6 0 0 1 520.2 108 Z" fill="#fff"/>
<ellipse cx="533.5" cy="90.2" rx="12.6" ry="3.9" fill="#fff" stroke="#3c6fca" stroke-width="1.4"/>
</g>
<g transform="translate(196.8,624.8)" fill="none" stroke="#273f96" stroke-width="2" stroke-linecap="butt"><path d="M13.88 18.12 C7.88 12.12 6.00 9.30 0.00 9.30 C-6.00 9.30 -7.88 12.12 -13.88 18.12 A3.00 3.00 0 0 1 -18.12 13.88 C-12.12 7.88 -9.30 6.00 -9.30 0.00 C-9.30 -6.00 -12.12 -7.88 -18.12 -13.88 A3.00 3.00 0 0 1 -13.88 -18.12 C-7.88 -12.12 -6.00 -9.30 0.00 -9.30 C6.00 -9.30 7.88 -12.12 13.88 -18.12 A3.00 3.00 0 0 1 18.12 -13.88 C12.12 -7.88 9.30 -6.00 9.30 0.00 C9.30 6.00 12.12 7.88 18.12 13.88 A3.00 3.00 0 0 1 13.88 18.12 Z" stroke-linejoin="round"/><circle cx="0" cy="0" r="3.7" stroke-width="1.7"/><line x1="29.13" y1="13.58" x2="13.58" y2="29.13" stroke-dasharray="7.5 1.7 3.2 1.7 8" stroke-width="2"/><line x1="-13.58" y1="29.13" x2="-29.13" y2="13.58" stroke-dasharray="7.5 1.7 3.2 1.7 8" stroke-width="2"/><line x1="-29.13" y1="-13.58" x2="-13.58" y2="-29.13" stroke-dasharray="7.5 1.7 3.2 1.7 8" stroke-width="2"/><line x1="13.58" y1="-29.13" x2="29.13" y2="-13.58" stroke-dasharray="7.5 1.7 3.2 1.7 8" stroke-width="2"/></g>
<g fill="none" stroke="#273f96" stroke-width="1.9" stroke-linejoin="round" stroke-linecap="round">
<path d="M268 608.2 L264.7 620.6 L324 620.6 L320.3 608.2"/>
<path d="M264.7 620.6 L269.1 641 L286.8 641 L289.7 630.5 L298.3 630.5 L300.5 641 L318.5 641 L324 620.6"/>
<path d="M270.9 625.3 L285 625.3 L283.2 635.7 L273.4 635.7 Z" fill="#3c6fca" stroke="none"/>
<path d="M302.3 625.3 L316.7 625.3 L314.6 635.7 L304.8 635.7 Z" fill="#3c6fca" stroke="none"/>
</g>
<g fill="none" stroke="#273f96" stroke-width="2.3">
<rect x="362.7" y="596.4" width="39.8" height="57.4" rx="4.5"/>
<line x1="362.7" y1="605.3" x2="402.5" y2="605.3"/>
<line x1="362.7" y1="640.4" x2="402.5" y2="640.4"/>
<circle cx="382.7" cy="646.9" r="2" fill="#273f96" stroke="none"/>
</g>
<g>
<path d="M699 611 Q689.3 616 689.3 626 Q689.3 644.7 719.2 644.7 Q749.1 644.7 749.1 626 Q749.1 616 739 611 L739 618 Q744.5 622 744.5 628 Q744.5 643.5 719.5 643.5 Q696.7 643.5 696.7 628 Q696.7 622 699 618 Z" fill="#3c6fca" stroke="#273f96" stroke-width="0.4"/>
<rect x="702.1" y="608.2" width="33" height="10.4" rx="1.5" fill="#3c6fca"/>
</g>
<g fill="#3c6fca">
<path d="M801.5 601.4 L842.4 601.4 L846.5 619.3 L797.4 619.3 Z"/>
<path d="M804.7 605.1 L839.3 605.1 L842.3 619.3 L801.6 619.3 Z" fill="#fff"/>
<rect x="792.8" y="619.3" width="59.2" height="25.7"/>
<rect x="796" y="644" width="11.5" height="8.9"/>
<rect x="837.3" y="644" width="11.1" height="8.9"/>
<rect x="795.6" y="623.9" width="8.2" height="8.7" rx="1" fill="#fff"/>
<rect x="841" y="623.9" width="7.8" height="8.7" rx="1" fill="#fff"/>
<rect x="808.4" y="623.5" width="28" height="3.2" rx="1" fill="#e8effc"/>
<rect x="808.4" y="630.8" width="28" height="3.2" rx="1" fill="#e8effc"/>
<rect x="808.4" y="637.7" width="28" height="3.3" rx="1" fill="#e8effc"/>
<path d="M831.5 619 A4.2 4.2 0 0 1 839.6 617" fill="none" stroke="#273f96" stroke-width="1.3"/>
</g>
<g>
<path d="M898.5 639 L898.5 609 Q898.5 607.3 900.5 607.3 L949.7 607.3 Q951.7 607.3 951.7 609 L951.7 639" fill="none" stroke="#273f96" stroke-width="2.2"/>
<rect x="894.3" y="643.1" width="61" height="3.9" rx="1.9" fill="#3c6fca"/>
<rect x="915.7" y="643.9" width="14.7" height="2.3" rx="1.1" fill="#fff"/>
</g>

<text x="645" y="92.5" class="cn">云服务器</text>
<text x="168.1" y="343.5" class="cn">接入点</text>
<text x="330.6" y="379.6" class="cn">边缘服务器</text>
<text x="692.3" y="352.5" class="cn">接入点</text>
<text x="864.7" y="376.4" class="cn">边缘服务器</text>

</svg>
</body></html>
